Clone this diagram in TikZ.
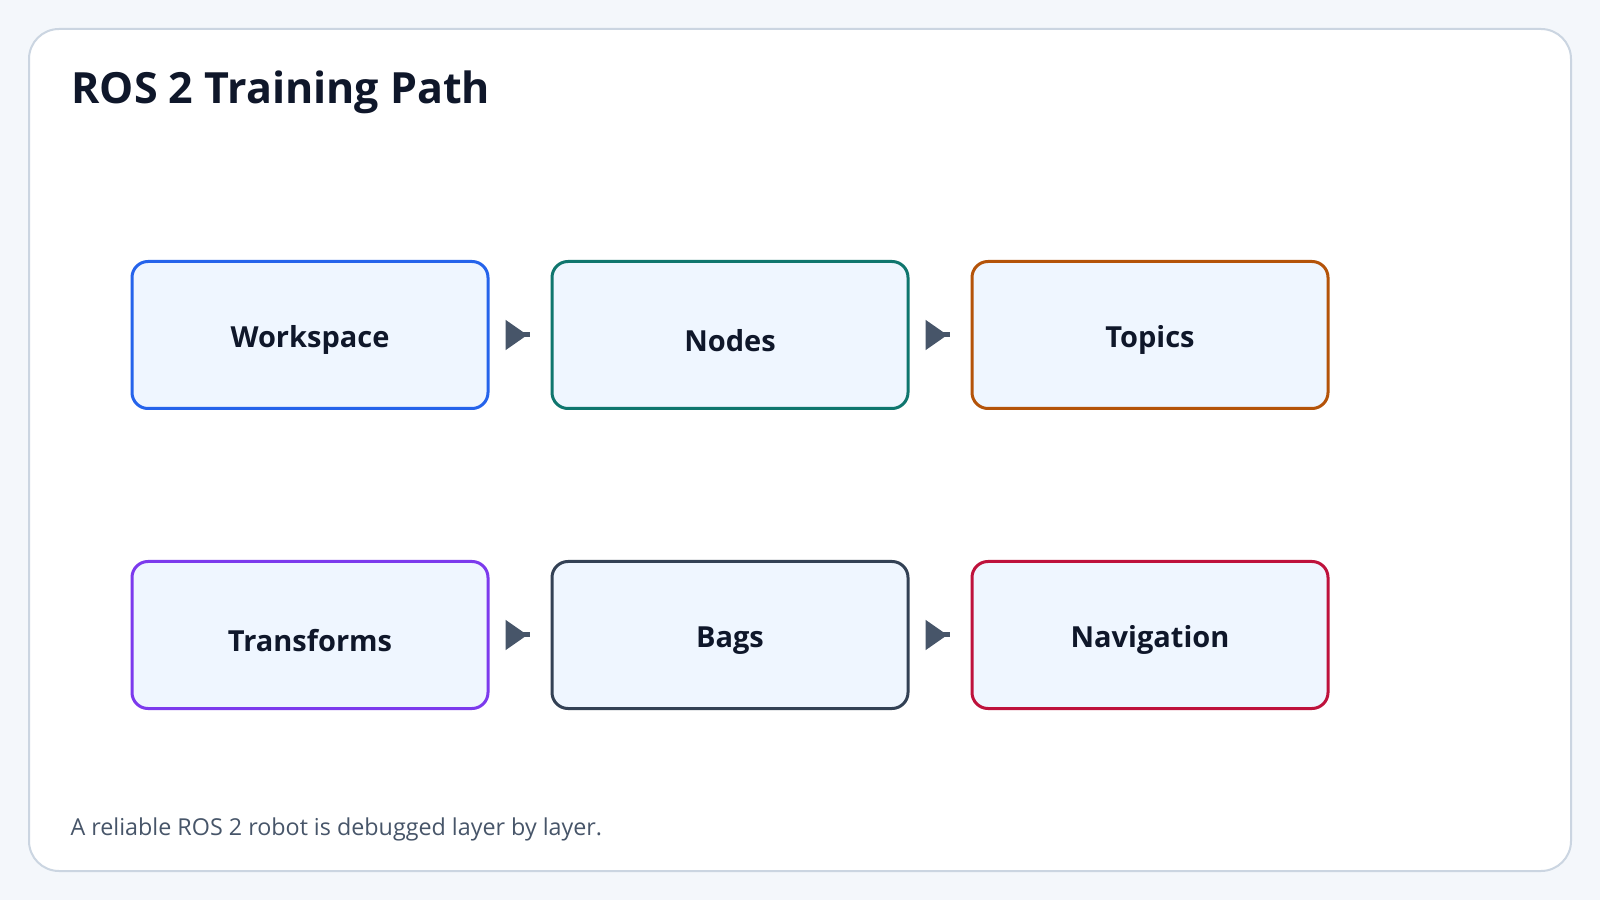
\documentclass[tikz,border=0pt]{standalone}
\usepackage{fontspec}
\setmainfont{Open Sans}
\usetikzlibrary{positioning,arrows.meta}
\definecolor{pagebg}{HTML}{F4F7FB}
\definecolor{cardline}{HTML}{CBD5E1}
\definecolor{boxfill}{HTML}{EFF6FF}
\definecolor{ink}{HTML}{0F172A}
\definecolor{muted}{HTML}{475569}
\definecolor{arrowgray}{HTML}{475569}
\definecolor{cblue}{HTML}{2563EB}
\definecolor{cteal}{HTML}{0F766E}
\definecolor{corange}{HTML}{B45309}
\definecolor{cpurple}{HTML}{7C3AED}
\definecolor{cslate}{HTML}{334155}
\definecolor{cred}{HTML}{BE123C}
\begin{document}
\begin{tikzpicture}[x=1pt, y=1pt, node distance={150pt and 61pt},
  stage/.style = {draw, line width=3pt, rounded corners=16pt, fill=boxfill, minimum width=356pt, minimum height=147pt, text height=26pt, text depth=0pt, text=ink, font=\fontsize{29}{35}\selectfont\bfseries},
  low/.style = {text height=34pt},
  flow/.style = {draw=arrowgray, line width=5pt, shorten <=16pt, shorten >=21pt, {Triangle[reversed, length=22pt, width=29pt]}-}]
\fill[pagebg] (0,0) rectangle (1600,900);
\draw[cardline, line width=2pt, fill=white, rounded corners=30pt] (29,29) rectangle (1571,871);
\node[anchor=base west, text=ink, font=\fontsize{43}{51}\selectfont\bfseries] (title) at (68,796) {ROS 2 Training Path};
\node[anchor=base west, text=muted, font=\fontsize{23.3}{28}\selectfont] (foot) at (67,65) {A reliable ROS 2 robot is debugged layer by layer.};
\node[stage, draw=cblue] (ws) at (310,565) {Workspace};
\node[stage, low, draw=cteal] (nd) [right=of ws] {Nodes};
\node[stage, draw=corange] (tp) [right=of nd] {Topics};
\node[stage, low, draw=cpurple] (tf) [below=of ws] {Transforms};
\node[stage, draw=cslate] (bg) [right=of tf] {Bags};
\node[stage, draw=cred] (nv) [right=of bg] {Navigation};
\draw[flow] (ws) -- (nd);
\draw[flow] (nd) -- (tp);
\draw[flow] (tf) -- (bg);
\draw[flow] (bg) -- (nv);
\end{tikzpicture}
\end{document}
